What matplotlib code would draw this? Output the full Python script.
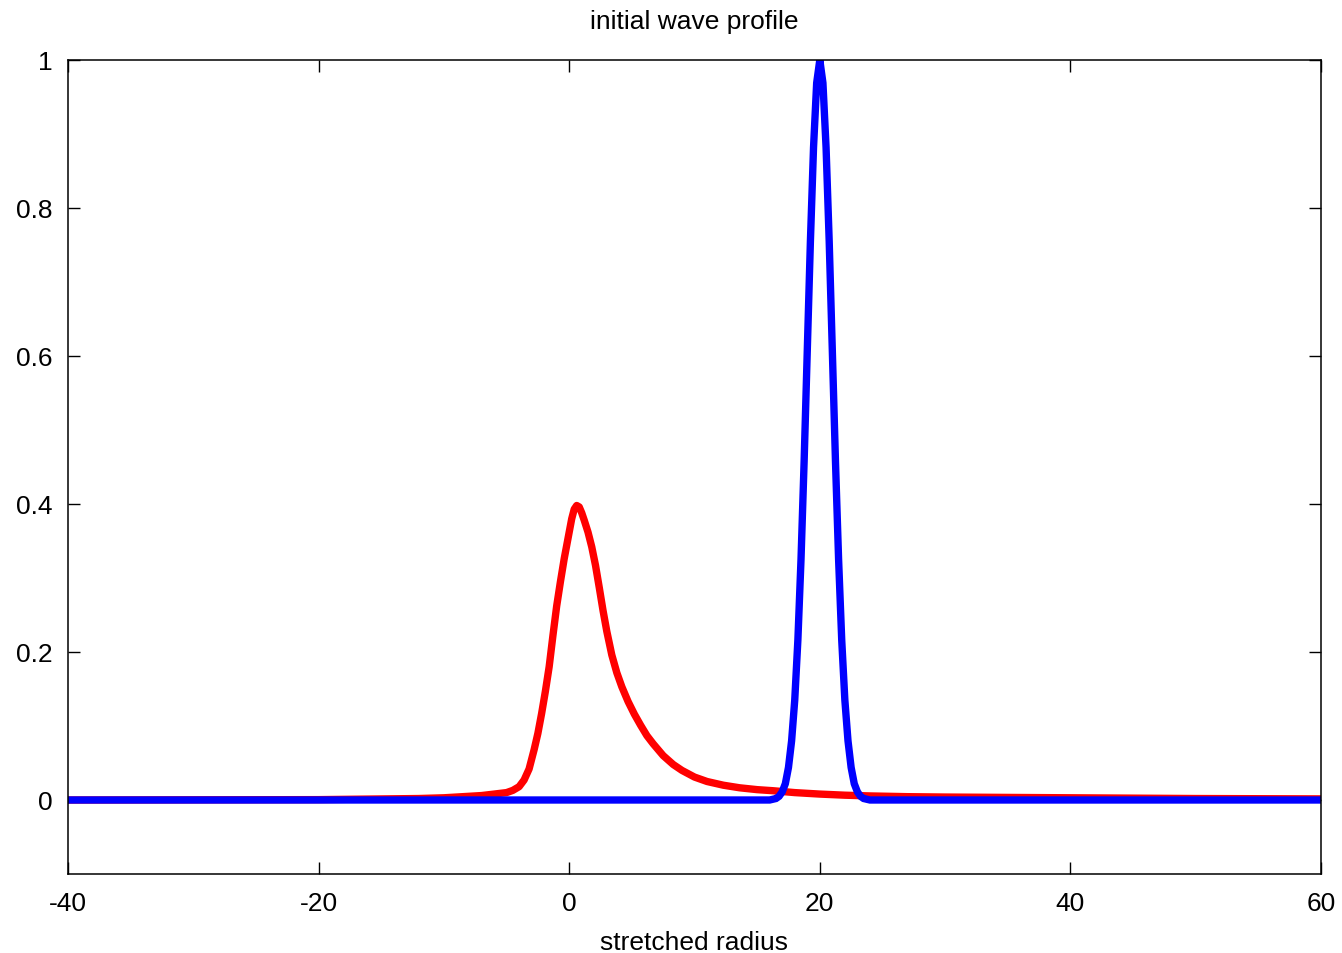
import matplotlib

matplotlib.use("Agg")
import matplotlib.pyplot as plt

plt.rcParams["font.family"] = ["Liberation Sans", "DejaVu Sans"]

# red: initial profile
red_x = [-40, -20, -12, -10, -8, -7, -6, -5, -4.5, -4, -3.6, -3.2, -2.8,
         -2.5, -2.2, -1.9, -1.6, -1.3, -1.0, -0.7, -0.4, -0.1, 0.2, 0.4,
         0.6, 0.8, 1.0, 1.2, 1.5, 1.8, 2.1, 2.4, 2.7, 3.0, 3.4, 3.8, 4.2,
         4.7, 5.2, 5.7, 6.2, 6.7, 7.5, 8.3, 9.0, 10.0, 11.0, 12.3, 13.6,
         15.0, 16.3, 18, 20, 22, 24, 27, 30, 35, 40, 50, 60]
red_y = [0, 0.0005, 0.002, 0.003, 0.005, 0.006, 0.008, 0.010, 0.013, 0.018,
         0.027, 0.042, 0.068, 0.09, 0.117, 0.147, 0.18, 0.222, 0.262, 0.295,
         0.326, 0.353, 0.380, 0.393, 0.398, 0.396, 0.388, 0.378, 0.362,
         0.342, 0.317, 0.287, 0.256, 0.228, 0.196, 0.172, 0.153, 0.133,
         0.116, 0.101, 0.087, 0.076, 0.060, 0.048, 0.040, 0.031, 0.025,
         0.020, 0.0165, 0.014, 0.0125, 0.010, 0.008, 0.0065, 0.0055, 0.0045,
         0.004, 0.0035, 0.003, 0.002, 0.0015]

# blue: pulse centred at 20
blue_x = [-40, 16.0, 16.25, 16.5, 16.75, 17.0, 17.25, 17.5, 17.75, 18.0,
          18.25, 18.5, 18.75, 19.0, 19.25, 19.5, 19.75, 20.0, 20.25, 20.5,
          20.75, 21.0, 21.25, 21.5, 21.75, 22.0, 22.25, 22.5, 22.75, 23.0,
          23.25, 23.5, 23.75, 24.0, 60]
blue_y = [0, 0, 0.001, 0.002, 0.005, 0.011, 0.022, 0.044, 0.08, 0.135,
          0.216, 0.325, 0.458, 0.607, 0.755, 0.882, 0.969, 1.0, 0.969, 0.882,
          0.755, 0.607, 0.458, 0.325, 0.216, 0.135, 0.08, 0.044, 0.022, 0.011,
          0.005, 0.002, 0.001, 0, 0]

fig = plt.figure(figsize=(13.42, 9.54), dpi=100)
ax = fig.add_axes([68 / 1342, 1 - 875 / 954, (1321 - 68) / 1342, (875 - 61) / 954])

ax.plot(red_x, red_y, color="#ff0000", linewidth=5.3)
ax.plot(blue_x, blue_y, color="#0000ff", linewidth=5.3, solid_joinstyle="miter")

ax.set_xlim(-40, 60)
ax.set_ylim(-0.1, 1.0)
ax.set_xticks([-40, -20, 0, 20, 40, 60])
ax.set_yticks([0, 0.2, 0.4, 0.6, 0.8, 1])
ax.set_xticklabels(["-40", "-20", "0", "20", "40", "60"])
ax.set_yticklabels(["0", "0.2", "0.4", "0.6", "0.8", "1"])
ax.tick_params(direction="in", length=8.5, width=1, labelsize=19,
               top=True, right=True, pad=11)
ax.tick_params(axis="x", pad=12)
for sp in ax.spines.values():
    sp.set_linewidth(1.1)

ax.set_title("initial wave profile", fontsize=19, pad=23)
ax.set_xlabel("stretched radius", fontsize=19, labelpad=11)

fig.savefig("out.png", dpi=100)
plt.close(fig)
